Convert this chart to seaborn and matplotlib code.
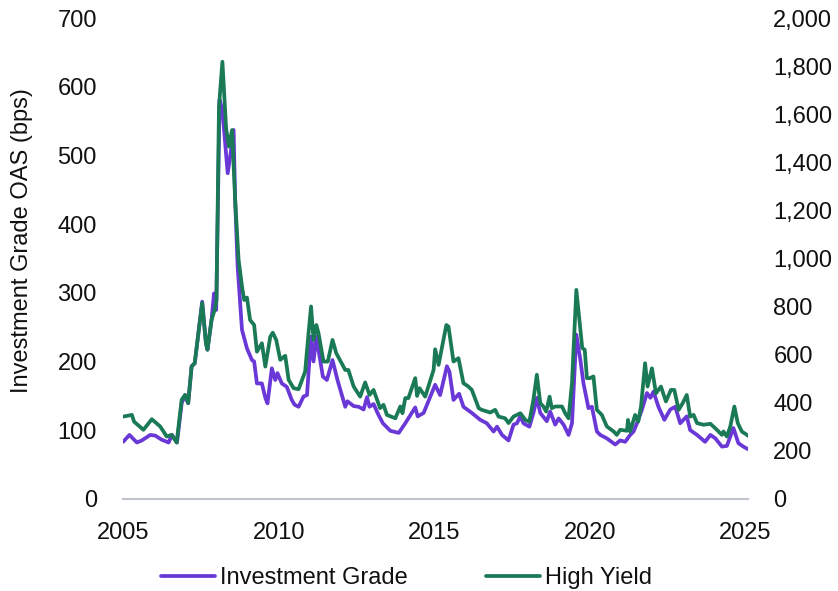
import matplotlib
matplotlib.use("Agg")
import matplotlib.pyplot as plt
import seaborn as sns
import pandas as pd
from matplotlib.ticker import FuncFormatter, MultipleLocator

# Investment Grade OAS (bps), left axis
ig_year = [2005.00, 2005.20, 2005.44, 2005.60, 2005.87, 2006.03, 2006.24, 2006.46, 2006.57, 2006.73,
           2006.88, 2006.99, 2007.09, 2007.20, 2007.30, 2007.47, 2007.54, 2007.66, 2007.71, 2007.84,
           2007.92, 2007.99, 2008.10, 2008.19, 2008.36, 2008.44, 2008.55, 2008.60, 2008.68, 2008.82,
           2008.98, 2009.14, 2009.21, 2009.30, 2009.46, 2009.57, 2009.64, 2009.78, 2009.89, 2009.96,
           2010.10, 2010.26, 2010.42, 2010.51, 2010.64, 2010.80, 2010.91, 2011.04, 2011.12, 2011.21,
           2011.42, 2011.55, 2011.73, 2011.89, 2012.14, 2012.21, 2012.41, 2012.57, 2012.73, 2012.84,
           2012.92, 2013.05, 2013.21, 2013.35, 2013.59, 2013.86, 2014.07, 2014.39, 2014.47, 2014.66,
           2015.03, 2015.19, 2015.41, 2015.49, 2015.62, 2015.80, 2015.94, 2016.21, 2016.48, 2016.69,
           2016.91, 2017.02, 2017.18, 2017.39, 2017.55, 2017.66, 2017.77, 2017.87, 2018.06, 2018.19,
           2018.30, 2018.41, 2018.62, 2018.73, 2018.89, 2019.00, 2019.16, 2019.32, 2019.43, 2019.57,
           2019.70, 2019.80, 2019.96, 2020.07, 2020.23, 2020.34, 2020.55, 2020.82, 2020.98, 2021.14,
           2021.30, 2021.41, 2021.52, 2021.68, 2021.84, 2021.95, 2022.05, 2022.21, 2022.40, 2022.59,
           2022.75, 2022.91, 2023.12, 2023.23, 2023.45, 2023.71, 2023.88, 2024.04, 2024.25, 2024.41,
           2024.62, 2024.78, 2024.94, 2025.10]
ig_oas = [83, 93, 82, 85, 93, 92, 86, 82, 93, 82,
          139, 151, 139, 193, 197, 260, 287, 227, 217, 260,
          299, 275, 581, 566, 474, 498, 537, 435, 338, 246,
          219, 202, 200, 168, 168, 147, 139, 190, 173, 183,
          168, 163, 144, 137, 134, 149, 151, 236, 200, 236,
          178, 173, 202, 173, 134, 142, 135, 134, 130, 148,
          134, 138, 122, 110, 99, 96, 110, 133, 120, 125,
          166, 151, 193, 185, 144, 153, 134, 125, 115, 110,
          98, 105, 93, 85, 108, 110, 120, 110, 105, 125,
          147, 125, 113, 127, 108, 117, 108, 93, 110, 239,
          202, 168, 132, 134, 98, 93, 88, 79, 85, 83,
          93, 98, 110, 130, 154, 147, 156, 134, 115, 130,
          134, 110, 120, 100, 93, 83, 93, 88, 76, 77,
          103, 81, 76, 72]

# High Yield OAS (bps), right axis
hy_year = [2005.00, 2005.28, 2005.35, 2005.65, 2005.92, 2006.19, 2006.40, 2006.56, 2006.72, 2006.88,
           2006.99, 2007.09, 2007.20, 2007.30, 2007.47, 2007.54, 2007.66, 2007.71, 2007.84, 2007.94,
           2008.00, 2008.08, 2008.19, 2008.31, 2008.40, 2008.50, 2008.60, 2008.71, 2008.82, 2008.89,
           2008.98, 2009.08, 2009.21, 2009.30, 2009.46, 2009.57, 2009.73, 2009.81, 2009.92, 2010.05,
           2010.21, 2010.32, 2010.48, 2010.64, 2010.85, 2010.96, 2011.04, 2011.12, 2011.21, 2011.28,
           2011.44, 2011.58, 2011.73, 2011.85, 2012.14, 2012.24, 2012.41, 2012.62, 2012.78, 2012.92,
           2013.05, 2013.26, 2013.37, 2013.48, 2013.75, 2013.91, 2013.98, 2014.07, 2014.17, 2014.39,
           2014.45, 2014.53, 2014.71, 2014.98, 2015.03, 2015.14, 2015.39, 2015.46, 2015.62, 2015.78,
           2015.94, 2016.10, 2016.21, 2016.43, 2016.53, 2016.80, 2016.96, 2017.07, 2017.28, 2017.39,
           2017.55, 2017.77, 2017.93, 2018.06, 2018.19, 2018.30, 2018.41, 2018.51, 2018.60, 2018.71,
           2018.78, 2018.89, 2019.00, 2019.11, 2019.21, 2019.32, 2019.43, 2019.57, 2019.68, 2019.76,
           2019.84, 2019.91, 2020.01, 2020.12, 2020.23, 2020.39, 2020.55, 2020.77, 2020.87, 2020.98,
           2021.20, 2021.23, 2021.30, 2021.46, 2021.56, 2021.65, 2021.78, 2021.86, 2022.00, 2022.13,
           2022.29, 2022.45, 2022.61, 2022.72, 2022.86, 2022.99, 2023.12, 2023.23, 2023.34, 2023.45,
           2023.66, 2023.88, 2024.09, 2024.25, 2024.30, 2024.41, 2024.52, 2024.65, 2024.76, 2024.89,
           2025.10]
hy_oas = [342, 349, 321, 287, 331, 301, 259, 266, 234, 412,
          432, 398, 550, 565, 744, 815, 648, 620, 744, 786,
          827, 1631, 1818, 1540, 1465, 1534, 1243, 994, 883, 827,
          837, 744, 723, 612, 647, 550, 675, 691, 661, 578,
          595, 495, 460, 456, 529, 689, 800, 661, 723, 689,
          571, 571, 661, 606, 536, 536, 467, 425, 484, 432,
          453, 377, 391, 349, 335, 384, 356, 419, 419, 502,
          428, 460, 425, 536, 622, 557, 723, 716, 571, 585,
          481, 467, 453, 377, 370, 359, 370, 342, 335, 315,
          342, 356, 328, 321, 412, 516, 398, 384, 363, 425,
          377, 384, 384, 384, 356, 335, 481, 869, 730, 627,
          620, 502, 502, 509, 370, 349, 301, 280, 266, 287,
          283, 328, 280, 349, 321, 384, 564, 467, 543, 439,
          467, 405, 453, 453, 370, 398, 432, 342, 349, 315,
          308, 312, 287, 266, 280, 259, 301, 384, 315, 280,
          262]

year_ticks = [2005, 2010, 2015, 2020, 2025]

ig_color = "#6A38D6"
hy_color = "#1A7A55"
text_color = "#111111"
fs = 17

sns.set_style("white")
plt.rcParams["font.family"] = ["Liberation Sans", "DejaVu Sans"]

ig = pd.DataFrame({"year": ig_year, "oas": ig_oas})
hy = pd.DataFrame({"year": hy_year, "oas": hy_oas})

fig = plt.figure(figsize=(8.38, 5.91), dpi=100)
ax = fig.add_axes([0.147, 0.156, 0.746, 0.8135])
ax2 = ax.twinx()

sns.lineplot(data=ig, x="year", y="oas", ax=ax, color=ig_color, linewidth=2.7,
             estimator=None, sort=False, label="Investment Grade", legend=False)
sns.lineplot(data=hy, x="year", y="oas", ax=ax2, color=hy_color, linewidth=2.7,
             estimator=None, sort=False, label="High Yield", legend=False)

ax.set_xlim(2005, 2025.1)
ax.set_ylim(0, 700)
ax2.set_ylim(0, 2000)
ax.set_xticks(year_ticks)
ax.set_xticklabels([str(y) for y in year_ticks])
ax.yaxis.set_major_locator(MultipleLocator(100))
ax2.yaxis.set_major_locator(MultipleLocator(200))
ax2.yaxis.set_major_formatter(FuncFormatter(lambda v, p: f"{int(v):,}"))

for a in (ax, ax2):
    for s in ["top", "left", "right"]:
        a.spines[s].set_visible(False)
    a.spines["bottom"].set_color("#BFC3CC")
    a.spines["bottom"].set_linewidth(1.5)
    a.tick_params(length=0, labelsize=fs, colors=text_color)
    a.set_xlabel("")
ax2.spines["bottom"].set_visible(False)
ax.tick_params(axis="y", pad=19)
ax2.tick_params(axis="y", pad=18)
ax.tick_params(axis="x", pad=17)

ax.set_ylabel("Investment Grade OAS (bps)", fontsize=fs, color=text_color)
ax.yaxis.set_label_coords(-0.144, 0.538)
ax2.set_ylabel("")

h1, l1 = ax.get_legend_handles_labels()
h2, l2 = ax2.get_legend_handles_labels()
fig.legend(h1 + h2, l1 + l2, loc="center", bbox_to_anchor=(0.485, 0.022), ncol=2,
           frameon=False, fontsize=fs, handlelength=2.3, handletextpad=0.2,
           columnspacing=3.3, labelcolor=text_color)

fig.savefig("out.png", dpi=100)
